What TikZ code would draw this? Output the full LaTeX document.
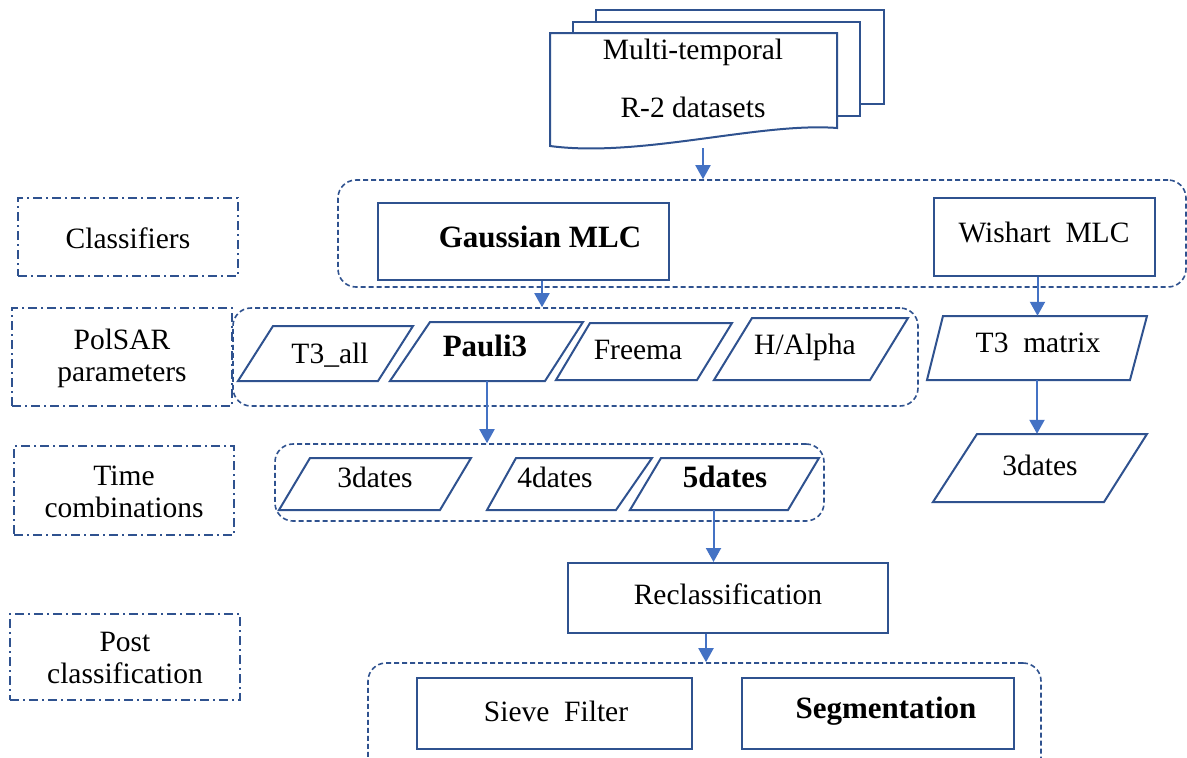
\documentclass[tikz,border=0pt]{standalone}
\usepackage{fontspec}
\setmainfont{Liberation Serif}
\usetikzlibrary{arrows.meta}
\definecolor{boxblue}{RGB}{47,82,143}
\definecolor{arrblue}{RGB}{68,114,196}
\tikzset{
 box/.style={draw=boxblue, line width=2pt, fill=white, inner sep=0pt},
 grp/.style={draw=boxblue, line width=1.6pt, dash pattern=on 5pt off 3pt, rounded corners=18pt, inner sep=0pt},
 lbl/.style={draw=boxblue, line width=1.8pt, dash pattern=on 9pt off 4pt on 2pt off 4pt, inner sep=0pt},
 txt/.style={font=\fontsize{29.5}{32}\selectfont, inner sep=0pt, align=center},
 btxt/.style={font=\fontsize{31}{34}\selectfont\bfseries, inner sep=0pt, align=center},
 arr/.style={draw=arrblue, line width=2pt, -{Triangle[width=15pt,length=14pt]}},
 para/.style={draw=boxblue, line width=2pt},
}
\newcommand\boxat[6]{%
 \node[#6, minimum width={(#4)-(#2)}, minimum height={(#5)-(#3)}] (#1) at ({((#2)+(#4))/2},{((#3)+(#5))/2}) {};}
\newcommand\pgram[7]{%
 \draw[para] (#2,#7) -- (#3,#6) -- (#4,#6) -- (#5,#7) -- cycle;
 \node[minimum width={(#4)-(#3)}, minimum height={(#7)-(#6)}, inner sep=0pt] (#1) at ({((#2)+(#4))/2},{((#6)+(#7))/2}) {};}
\begin{document}
\begin{tikzpicture}[x=1pt,y=-1pt]
\useasboundingbox (0,0) rectangle (1187,758);
\clip (0,0) rectangle (1187,758);
% document stack
\filldraw[para, fill=white] (596,104) -- (596,10) -- (884,10) -- (884,104) -- cycle;
\filldraw[para, fill=white] (573,116) -- (573,22) -- (860,22) -- (860,116) -- cycle;
\filldraw[para, fill=white] (550,146) -- (550,33) -- (837,33) -- (837,128) .. controls (760,122) and (640,158) .. (550,146) -- cycle;
\node[txt] (doct1) at (693,52) {Multi-temporal};
\node[txt] (doct2) at (693,107) {R-2 datasets};
\coordinate (docb) at (703,148);
% left labels
\boxat{lcls}{18}{198}{238}{276}{lbl}
\node[txt] (lclst) at (128,238) {Classifiers};
\boxat{lpol}{12}{308}{232}{406}{lbl}
\node[txt] (lpolt) at (122,358) {PolSAR\\parameters};
\boxat{ltim}{14}{446}{234}{535}{lbl}
\node[txt] (ltimt) at (124,492) {Time\\combinations};
\boxat{lpost}{10}{614}{240}{700}{lbl}
\node[txt] (lpostt) at (125,658) {Post\\classification};
% classifiers group
\boxat{g1}{338}{180}{1186}{287}{grp}
\boxat{gauss}{378}{203}{669}{280}{box}
\node[btxt] (gausst) at (540,237) {Gaussian MLC};
\boxat{wish}{934}{198}{1155}{276}{box}
\node[txt] (wisht) at (1044,232) {Wishart\ \ MLC};
% polsar group
\boxat{g2}{233}{308}{918}{406}{grp}
\pgram{t3all}{238}{273}{413}{378}{326}{381}
\node[txt] (t3allt) at (330,355) {T3\_all};
\pgram{pauli}{390}{430}{583}{545}{322}{381}
\node[btxt] (paulit) at (485,346) {Pauli3};
\pgram{freema}{556}{590}{732}{697}{323}{380}
\node[txt] (freemat) at (638,350) {Freema};
\pgram{halpha}{714}{752}{908}{870}{318}{380}
\node[txt] (halphat) at (805,347) {H/Alpha};
% time group
\boxat{g3}{275}{444}{824}{521}{grp}
\pgram{dthree}{279}{310}{471}{440}{458}{510}
\node[txt] (dthreet) at (375,477) {3dates};
\pgram{dfour}{487}{516}{652}{616}{458}{510}
\node[txt] (dfourt) at (555,477) {4dates};
\pgram{dfive}{630}{661}{819}{788}{458}{510}
\node[btxt] (dfivet) at (725,477) {5dates};
% right branch
\pgram{tmat}{927}{943}{1147}{1130}{316}{380}
\node[txt] (tmatt) at (1038,343) {T3\ \ matrix};
\pgram{dright}{933}{977}{1147}{1104}{434}{502}
\node[txt] (drightt) at (1040,465) {3dates};
% reclassification
\boxat{recl}{568}{563}{888}{633}{box}
\node[txt] (reclt) at (728,594) {Reclassification};
% post group
\boxat{g4}{368}{663}{1041}{800}{grp}
\boxat{sieve}{417}{678}{692}{749}{box}
\node[txt] (sievet) at (556,711) {Sieve\ \ Filter};
\boxat{seg}{742}{678}{1014}{749}{box}
\node[btxt] (segt) at (886,711) {Segmentation};
% arrows
\draw[arr] (docb) -- (docb |- g1.north);
\draw[arr] ([xshift=2pt]gausst |- gauss.south) -- ([xshift=2pt]gausst |- g2.north);
\draw[arr] ([xshift=0.5pt]pauli.south) -- ([xshift=0.5pt]pauli.south |- g3.north);
\draw[arr] ([xshift=-11pt]dfive.south) -- ([xshift=-11pt]dfive.south |- recl.north);
\draw[arr] ([xshift=-22pt]recl.south) -- ([xshift=-22pt]recl.south |- g4.north);
\draw[arr] ([xshift=-7pt]wish.south) -- ([xshift=-7pt]wish.south |- tmat.north);
\draw[arr] (tmat.south) -- (tmat.south |- dright.north);
\end{tikzpicture}
\end{document}
